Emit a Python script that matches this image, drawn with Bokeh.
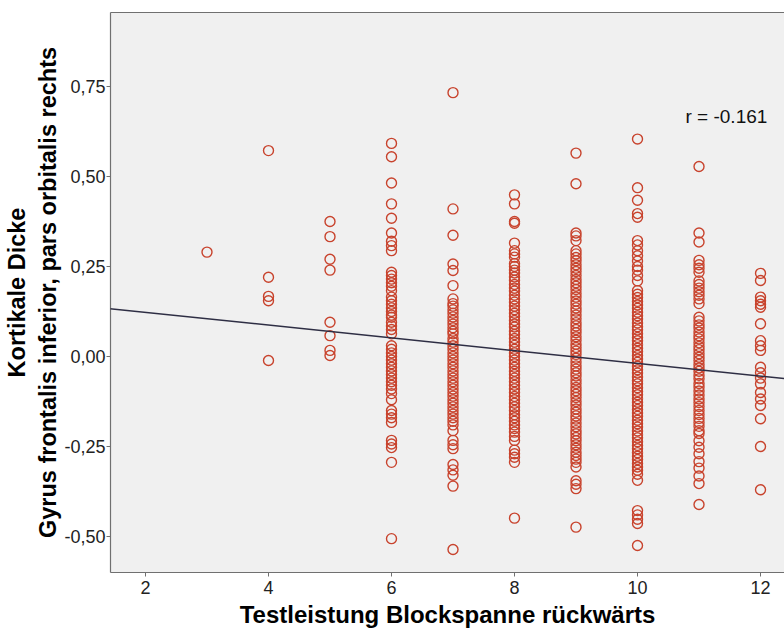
from bokeh.plotting import figure
from bokeh.models import Range1d, FixedTicker, LinearAxis, Label, Slope
from bokeh.embed import file_html
from bokeh.resources import INLINE

# ---- data ----
x_ticks = [2, 4, 6, 8, 10, 12]
y_ticks = [-0.5, -0.25, 0.0, 0.25, 0.5, 0.75]
y_tick_labels = ["-0,50", "-0,25", "0,00", "0,25", "0,50", "0,75"]

col3 = [0.29]
col4 = [0.572, 0.22, 0.167, 0.155, -0.011]
col5 = [0.375, 0.333, 0.27, 0.24, 0.095, 0.058, 0.017, 0.003]
col6 = [0.592, 0.555, 0.482, 0.424, 0.384, 0.343, 0.32, 0.308, 0.294, 0.234, 0.225,
        0.215, 0.205, 0.195, 0.183, 0.165, 0.155, 0.145, 0.135, 0.125, 0.115, 0.109,
        0.095, 0.085, 0.075, 0.063, 0.03, 0.02, 0.01, 0.0, -0.01, -0.02, -0.03, -0.04,
        -0.05, -0.06, -0.07, -0.08, -0.09, -0.103, -0.12, -0.15, -0.16, -0.17, -0.183,
        -0.233, -0.243, -0.253, -0.294, -0.506]
col7 = [0.733, 0.41, 0.337, 0.257, 0.239, 0.197, 0.16, 0.147, 0.14, 0.13, 0.12, 0.11,
        0.1, 0.09, 0.08, 0.07, 0.063, 0.05, 0.04, 0.03, 0.02, 0.01, 0.0, -0.01, -0.02,
        -0.03, -0.04, -0.05, -0.06, -0.07, -0.08, -0.09, -0.1, -0.11, -0.12, -0.13,
        -0.14, -0.15, -0.16, -0.17, -0.18, -0.19, -0.206, -0.233, -0.245, -0.256, -0.3,
        -0.315, -0.33, -0.36, -0.536]
col8 = [0.449, 0.424, 0.375, 0.37, 0.315, 0.294, 0.285, 0.276, 0.258, 0.25, 0.24,
        0.232, 0.221, 0.212, 0.2, 0.19, 0.182, 0.17, 0.16, 0.151, 0.14, 0.13, 0.12,
        0.111, 0.1, 0.09, 0.082, 0.07, 0.061, 0.05, 0.04, 0.031, 0.02, 0.01, 0.0, -0.01,
        -0.02, -0.03, -0.041, -0.05, -0.06, -0.07, -0.08, -0.09, -0.1, -0.111, -0.12,
        -0.13, -0.14, -0.15, -0.162, -0.17, -0.18, -0.19, -0.2, -0.21, -0.222, -0.233,
        -0.26, -0.27, -0.28, -0.294, -0.449]
col9 = [0.565, 0.48, 0.343, 0.335, 0.322, 0.294, 0.285, 0.275, 0.266, 0.255, 0.245,
        0.236, 0.225, 0.214, 0.205, 0.195, 0.186, 0.175, 0.165, 0.154, 0.145, 0.135,
        0.126, 0.115, 0.105, 0.094, 0.085, 0.075, 0.066, 0.055, 0.045, 0.034, 0.025,
        0.015, 0.006, -0.005, -0.015, -0.026, -0.035, -0.045, -0.054, -0.065, -0.075,
        -0.086, -0.095, -0.105, -0.114, -0.125, -0.135, -0.146, -0.155, -0.165, -0.174,
        -0.185, -0.195, -0.206, -0.215, -0.225, -0.234, -0.245, -0.255, -0.266, -0.275,
        -0.285, -0.294, -0.307, -0.345, -0.355, -0.367, -0.474]
col10 = [0.604, 0.469, 0.434, 0.397, 0.387, 0.322, 0.31, 0.294, 0.28, 0.265, 0.25,
         0.24, 0.225, 0.21, 0.183, 0.173, 0.164, 0.153, 0.143, 0.134, 0.123, 0.113,
         0.104, 0.093, 0.083, 0.074, 0.063, 0.053, 0.044, 0.033, 0.023, 0.014, 0.003,
         -0.007, -0.016, -0.027, -0.037, -0.046, -0.057, -0.067, -0.076, -0.087, -0.097,
         -0.106, -0.117, -0.127, -0.136, -0.147, -0.157, -0.166, -0.177, -0.187, -0.196,
         -0.207, -0.217, -0.226, -0.237, -0.247, -0.256, -0.267, -0.277, -0.286, -0.297,
         -0.307, -0.316, -0.327, -0.344, -0.428, -0.44, -0.452, -0.464, -0.525]
col11 = [0.528, 0.343, 0.318, 0.267, 0.255, 0.245, 0.234, 0.21, 0.2, 0.19, 0.18, 0.17,
         0.16, 0.147, 0.109, 0.099, 0.088, 0.079, 0.068, 0.058, 0.049, 0.038, 0.028,
         0.019, 0.008, -0.002, -0.011, -0.022, -0.032, -0.041, -0.052, -0.062, -0.075,
         -0.085, -0.096, -0.107, -0.118, -0.128, -0.139, -0.15, -0.161, -0.172, -0.183,
         -0.194, -0.206, -0.214, -0.234, -0.252, -0.27, -0.292, -0.31, -0.332, -0.353,
         -0.411]
col12 = [0.231, 0.211, 0.165, 0.155, 0.145, 0.137, 0.091, 0.044, 0.03, 0.017, -0.03,
         -0.045, -0.06, -0.076, -0.1, -0.118, -0.136, -0.173, -0.25, -0.37]

columns = {3: col3, 4: col4, 5: col5, 6: col6, 7: col7, 8: col8, 9: col9,
           10: col10, 11: col11, 12: col12}

fit_intercept = 0.158
fit_slope = -0.0177
r_text = "r = -0.161"

xs, ys = [], []
for k, vals in columns.items():
    xs.extend([k] * len(vals))
    ys.extend(vals)

# ---- figure ----
p = figure(width=784, height=633, output_backend="svg", toolbar_location=None,
           x_range=Range1d(1.431, 12.39), y_range=Range1d(-0.6, 0.9556),
           min_border_left=110, min_border_right=0, min_border_top=12,
           min_border_bottom=61)
p.background_fill_color = "#F0F0F0"
p.border_fill_color = "white"
p.outline_line_color = None
p.grid.visible = False

p.scatter(xs, ys, marker="circle", size=10, fill_color=None,
          line_color="#C8432D", line_width=1.4)

p.add_layout(Slope(gradient=fit_slope, y_intercept=fit_intercept,
                   line_color="#2E2E44", line_width=1.5))

p.add_layout(Label(x=10.78, y=0.667, text=r_text, text_font="Liberation Sans",
                   text_font_size="19px", text_color="#111111",
                   text_baseline="alphabetic"))

axis_color = "#707070"
xa = p.xaxis[0]
xa.ticker = FixedTicker(ticks=x_ticks)
xa.axis_label = "Testleistung Blockspanne rückwärts"
ya = p.yaxis[0]
ya.ticker = FixedTicker(ticks=y_ticks)
ya.major_label_overrides = {t: l for t, l in zip(y_ticks, y_tick_labels)}
ya.axis_label = "Kortikale Dicke\nGyrus frontalis inferior, pars orbitalis rechts"

for ax in (xa, ya):
    ax.axis_line_color = axis_color
    ax.axis_line_width = 1.2
    ax.major_tick_line_color = axis_color
    ax.major_tick_out = 4
    ax.major_tick_in = 0
    ax.minor_tick_line_color = None
    ax.major_label_text_font = "Liberation Sans"
    ax.major_label_text_font_size = "18px"
    ax.major_label_text_color = "#222222"
    ax.axis_label_text_font = "Liberation Sans"
    ax.axis_label_text_font_style = "bold"
    ax.axis_label_text_color = "#000000"

xa.axis_label_text_font_size = "24px"
ya.axis_label_text_font_size = "23.5px"
xa.major_label_standoff = 4
xa.axis_label_standoff = 4
ya.major_label_standoff = 1
ya.axis_label_standoff = 0

top = LinearAxis(ticker=FixedTicker(ticks=[]), axis_line_color=axis_color,
                 axis_line_width=1.2, major_tick_line_color=None,
                 minor_tick_line_color=None, major_label_text_font_size="0px")
p.add_layout(top, "above")

open("out.html", "w").write(file_html(p, INLINE))
